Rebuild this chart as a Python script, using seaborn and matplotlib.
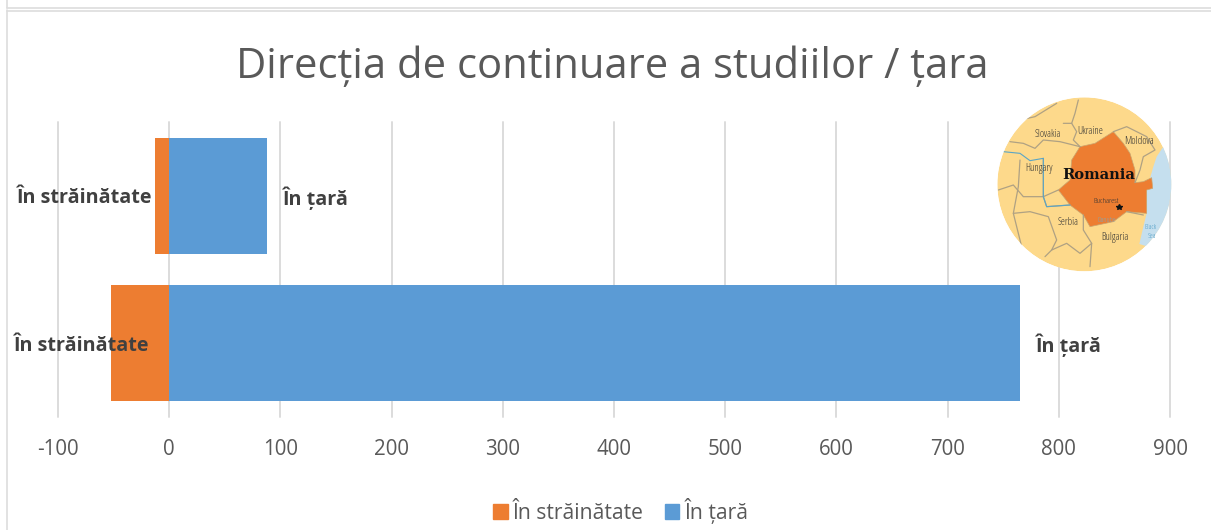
import pandas as pd
import matplotlib.pyplot as plt
import seaborn as sns
from matplotlib.lines import Line2D
from matplotlib.patches import Circle, Polygon, Patch

W, H = 1211, 530

groups = ['A', 'B']
abroad = [-13, -52]
home = [88, 765]
ticks = [-100, 0, 100, 200, 300, 400, 500, 600, 700, 800, 900]
title = 'Direcția de continuare a studiilor / țara'
abroad_name = 'În străinătate'
home_name = 'În țară'

sns.set_style("white")
plt.rcParams['font.family'] = ['Open Sans', 'DejaVu Sans']
plt.rcParams['axes.unicode_minus'] = False
GREY = '#595959'
ORANGE = '#ED7D31'
BLUE = '#5B9BD5'

fig = plt.figure(figsize=(W / 100, H / 100), dpi=100)
ax = fig.add_axes([58 / W, 1 - 417 / H, (1170 - 58) / W, 295 / H])

df = pd.DataFrame({'group': groups * 2,
                   'value': abroad + home,
                   'side': [abroad_name] * 2 + [home_name] * 2})
sns.barplot(data=df, x='value', y='group', hue='side', dodge=False, width=0.785, linewidth=0,
            palette=[ORANGE, BLUE], saturation=1, legend=False, ax=ax, zorder=3)

ax.set_xlim(-100, 900)
ax.set_ylim(1.5, -0.5)
ax.set_xticks(ticks)
ax.set_yticks([])
ax.set_xlabel('')
ax.set_ylabel('')
ax.xaxis.grid(True, color='#DCDCDC', lw=1.4, clip_on=False)
ax.set_axisbelow(True)
ax.tick_params(axis='x', length=0, pad=15.5, labelsize=14.8, labelcolor=GREY)
sns.despine(ax=ax, left=True, bottom=True)

for i, v in enumerate(home):
    ax.annotate(home_name, (v, i + 0.015), xytext=(11.5, 0), textcoords='offset points', va='center',
                ha='left', fontsize=14.2, fontweight='bold', color='#404040', zorder=5)
for i, x in enumerate([-15, -17.5]):
    ax.text(x, i + 0.018, abroad_name, va='center', ha='right', fontsize=14.2, fontweight='bold',
            color='#404040', zorder=5)

fig.text(612 / W, 1 - 67 / H, title, ha='center', va='center', fontsize=30.1, color=GREY)

handles = [Patch(color=ORANGE, label=abroad_name), Patch(color=BLUE, label=home_name)]
fig.legend(handles=handles, loc='center', bbox_to_anchor=(621 / W, 1 - 511 / H), ncol=2, frameon=False,
           fontsize=15.2, labelcolor=GREY, handlelength=0.68, handleheight=0.68,
           handletextpad=0.25, columnspacing=1.0)

# frame of the screenshot
for xs, ys in [((7, 7), (10, 530)), ((7, 1211), (10.5, 10.5)), ((7, 7), (0, 7.5)), ((7, 1211), (7.5, 7.5))]:
    fig.add_artist(Line2D([x / W for x in xs], [1 - y / H for y in ys], color='#DDDDDD', lw=1.2))

# round Romania map picture, drawn in its own box (units: 3x pixels)
m = fig.add_axes([980 / W, 1 - 280 / H, 210 / W, 190 / H])
m.set_xlim(0, 630)
m.set_ylim(570, 0)
m.axis('off')
m.patch.set_alpha(0)
disc = Circle((313, 283), 261, fc='#FDD98B', ec='none')
m.add_patch(disc)
sea = Polygon([(550, 170), (530, 200), (520, 230), (500, 300), (500, 370), (490, 410), (478, 462), (600, 500),
               (600, 150)], fc='#C5DFEE', ec='none')
land = Polygon([(400, 125), (430, 160), (450, 190), (465, 240), (465, 278), (490, 275), (515, 263), (518, 295),
                (500, 300), (500, 370), (440, 365), (400, 395), (330, 410), (310, 375), (270, 345), (235, 300),
                (270, 270), (275, 210), (300, 170), (345, 160)], fc=ORANGE, ec='#C9A56F', lw=0.5)
m.add_patch(sea)
m.add_patch(land)
borders = [
    [(90, 155), (130, 160), (165, 175), (190, 150), (240, 155), (300, 170)],
    [(120, 90), (165, 80), (230, 40)],
    [(250, 100), (275, 100), (285, 70), (295, 30)],
    [(275, 100), (290, 125), (280, 150), (300, 170)],
    [(400, 125), (440, 110), (500, 140), (525, 180), (490, 200), (480, 240), (465, 278)],
    [(55, 300), (100, 285), (130, 320), (190, 320), (235, 300)],
    [(190, 205), (190, 320), (200, 350), (270, 345)],
    [(100, 370), (150, 365), (205, 380), (230, 450), (215, 480), (195, 500)],
    [(310, 375), (310, 420), (335, 460), (330, 530)],
    [(215, 480), (260, 460), (300, 490), (335, 460)],
    [(440, 365), (490, 375)],
    [(120, 210), (115, 290), (100, 370), (125, 470)],
]
for b in borders:
    m.plot(*zip(*b), color='#AFA183', lw=0.9)
m.plot([70, 120, 150, 190, 190, 200, 270], [185, 190, 212, 205, 320, 350, 345], color='#5AA5C5', lw=0.8)
for art in list(m.patches) + list(m.lines):
    art.set_clip_path(disc)

for s, x, y, fs in [('Slovakia', 204, 133, 7.2), ('Ukraine', 332, 123, 7.4), ('Moldova', 478, 154, 7.6),
                    ('Hungary', 176, 237, 7.4), ('Serbia', 265, 398, 7.2), ('Bulgaria', 405, 442, 7.4),
                    ('Bucharest', 378, 335, 5.8)]:
    m.text(x, y, s, ha='center', va='center', fontsize=fs, color='#333333', stretch='condensed')
m.text(380, 393, 'Danube', ha='center', va='center', fontsize=5.2, color='#7FA6B8', stretch='condensed')
m.text(510, 412, 'Black', ha='center', va='center', fontsize=5.2, color='#4E9CC4', stretch='condensed')
m.text(515, 441, 'Sea', ha='center', va='center', fontsize=5.2, color='#4E9CC4', stretch='condensed')
m.text(355, 255, 'Romania', ha='center', va='center', fontsize=10.6, fontweight='bold',
       family='DejaVu Serif', color='#111111')
m.plot([417], [352], marker='*', ms=4, color='#111111')

fig.savefig('out.png', dpi=100)
